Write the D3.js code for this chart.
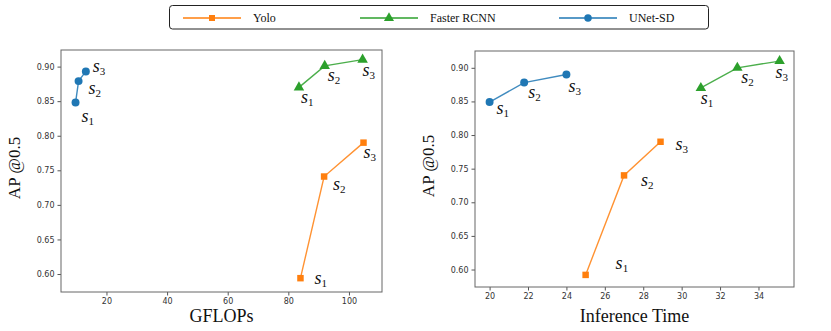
<!DOCTYPE html>
<html>
<head>
<meta charset="utf-8">
<script src="https://cdn.jsdelivr.net/npm/d3@7"></script>
<style>
  body { margin: 0; background: #fff; }
  .tick text { font-family: "DejaVu Sans", sans-serif; font-size: 8px; fill: #333; }
  .tick line { stroke: #555; }
  .domain { stroke: none; }
  .lbl { font-family: "Liberation Serif", "Times New Roman", serif; fill: #111; }
</style>
</head>
<body>
<svg id="chart" width="831" height="331"></svg>
<script>
// series names, colors in matplotlib default order
var series_names = ["Yolo", "Faster RCNN", "UNet-SD"];
var series_colors = ["#ff7f0e", "#2ca02c", "#1f77b4"];
var series_symbols = ["square", "triangle", "circle"];
var step_labels = ["1", "2", "3"];

// GFLOPs vs AP@0.5
var gflops_yolo = [84, 91.8, 104.8];
var gflops_rcnn = [83.5, 92, 104.5];
var gflops_unet = [9.8, 10.8, 13.2];
// inference time vs AP@0.5
var time_yolo = [25, 27, 28.9];
var time_rcnn = [31, 32.9, 35.1];
var time_unet = [20, 21.8, 24];
// AP values (same in both panels, read per panel)
var ap_yolo_l = [0.594, 0.741, 0.790];
var ap_rcnn_l = [0.870, 0.901, 0.910];
var ap_unet_l = [0.848, 0.879, 0.893];
var ap_yolo_r = [0.592, 0.740, 0.790];
var ap_rcnn_r = [0.870, 0.900, 0.910];
var ap_unet_r = [0.849, 0.878, 0.890];

var gflops_ticks = [20, 40, 60, 80, 100];
var time_ticks = [20, 22, 24, 26, 28, 30, 32, 34];
var ap_ticks = [0.60, 0.65, 0.70, 0.75, 0.80, 0.85, 0.90];

// label offsets (px) from each point, per series
var off_left = [
  [[14, 6], [9, 13], [0, 15]],
  [[2, 16], [3, 15], [0, 16]],
  [[6, 19], [10, 13], [7, 1]]
];
var off_right = [
  [[30, -6], [17, 11], [15, 8]],
  [[0, 16], [4, 15], [-4, 17]],
  [[7, 12], [4, 15], [2, 17]]
];

var svg = d3.select("#chart");

function panel(cfg) {
  var x = d3.scaleLinear().domain(cfg.xdom).range([cfg.x0, cfg.x1]);
  var y = d3.scaleLinear().domain(cfg.ydom).range([cfg.y1, cfg.y0]);
  var g = svg.append("g");

  g.append("g")
    .attr("transform", "translate(0," + cfg.y1 + ")")
    .call(d3.axisBottom(x).tickValues(cfg.xticks).tickFormat(d3.format("d")).tickSize(3.5).tickPadding(3));
  g.append("g")
    .attr("transform", "translate(" + cfg.x0 + ",0)")
    .call(d3.axisLeft(y).tickValues(ap_ticks).tickFormat(d3.format(".2f")).tickSize(3.5).tickPadding(3));

  g.append("rect")
    .attr("x", cfg.x0).attr("y", cfg.y0)
    .attr("width", cfg.x1 - cfg.x0).attr("height", cfg.y1 - cfg.y0)
    .attr("fill", "none").attr("stroke", "#666").attr("stroke-width", 1);

  var line = d3.line().x(function(d) { return x(d[0]); }).y(function(d) { return y(d[1]); });

  cfg.data.forEach(function(s, i) {
    var pts = d3.zip(s.xs, s.ys);
    g.append("path")
      .attr("d", line(pts))
      .attr("fill", "none")
      .attr("stroke", series_colors[i])
      .attr("stroke-width", 1.4)
      .attr("stroke-opacity", 0.85);
    var sym = series_symbols[i] == "square" ? d3.symbolSquare :
              series_symbols[i] == "triangle" ? d3.symbolTriangle : d3.symbolCircle;
    var size = series_symbols[i] == "square" ? 42 : series_symbols[i] == "triangle" ? 48 : 50;
    g.selectAll(null).data(pts).enter().append("path")
      .attr("d", d3.symbol().type(sym).size(size))
      .attr("transform", function(d) { return "translate(" + x(d[0]) + "," + y(d[1]) + ")"; })
      .attr("fill", series_colors[i]);
    pts.forEach(function(d, k) {
      var o = cfg.offs[i][k];
      var t = g.append("text").attr("class", "lbl")
        .attr("x", x(d[0]) + o[0]).attr("y", y(d[1]) + o[1]);
      t.append("tspan").attr("font-style", "italic").attr("font-size", "18px").text("s");
      t.append("tspan").attr("font-size", "11px").attr("dy", 3).text(step_labels[k]);
    });
  });

  g.append("text").attr("class", "lbl")
    .attr("x", (cfg.x0 + cfg.x1) / 2).attr("y", 322)
    .attr("text-anchor", "middle").attr("font-size", "18px")
    .text(cfg.xlabel);
  g.append("text").attr("class", "lbl")
    .attr("transform", "translate(" + (cfg.x0 - 41) + "," + ((cfg.y0 + cfg.y1) / 2 - 3) + ") rotate(-90)")
    .attr("text-anchor", "middle").attr("font-size", "17px")
    .text("AP @0.5");
}

panel({
  x0: 61, x1: 382, y0: 50, y1: 292,
  xdom: [5, 110.9], ydom: [0.574, 0.924],
  xticks: gflops_ticks, xlabel: "GFLOPs", offs: off_left,
  data: [
    { xs: gflops_yolo, ys: ap_yolo_l },
    { xs: gflops_rcnn, ys: ap_rcnn_l },
    { xs: gflops_unet, ys: ap_unet_l }
  ]
});

panel({
  x0: 475, x1: 794, y0: 51, y1: 287,
  xdom: [19.24, 35.85], ydom: [0.574, 0.925],
  xticks: time_ticks, xlabel: "Inference Time", offs: off_right,
  data: [
    { xs: time_yolo, ys: ap_yolo_r },
    { xs: time_rcnn, ys: ap_rcnn_r },
    { xs: time_unet, ys: ap_unet_r }
  ]
});

// legend
var leg = svg.append("g");
leg.append("rect")
  .attr("x", 169.5).attr("y", 5.5).attr("width", 539).attr("height", 23.5)
  .attr("rx", 3).attr("fill", "#fff").attr("stroke", "#222").attr("stroke-width", 1);
var leg_x = [183, 360, 559];
series_names.forEach(function(n, i) {
  var lx = leg_x[i];
  leg.append("line")
    .attr("x1", lx).attr("x2", lx + 58).attr("y1", 18).attr("y2", 18)
    .attr("stroke", series_colors[i]).attr("stroke-width", 1.5);
  var sym = series_symbols[i] == "square" ? d3.symbolSquare :
            series_symbols[i] == "triangle" ? d3.symbolTriangle : d3.symbolCircle;
  leg.append("path")
    .attr("d", d3.symbol().type(sym).size(i == 0 ? 36 : 44))
    .attr("transform", "translate(" + (lx + 29) + "," + 18 + ")")
    .attr("fill", series_colors[i]);
  leg.append("text").attr("class", "lbl")
    .attr("x", lx + 70).attr("y", 21.5)
    .attr("font-size", "12px")
    .text(n);
});
</script>
</body>
</html>
